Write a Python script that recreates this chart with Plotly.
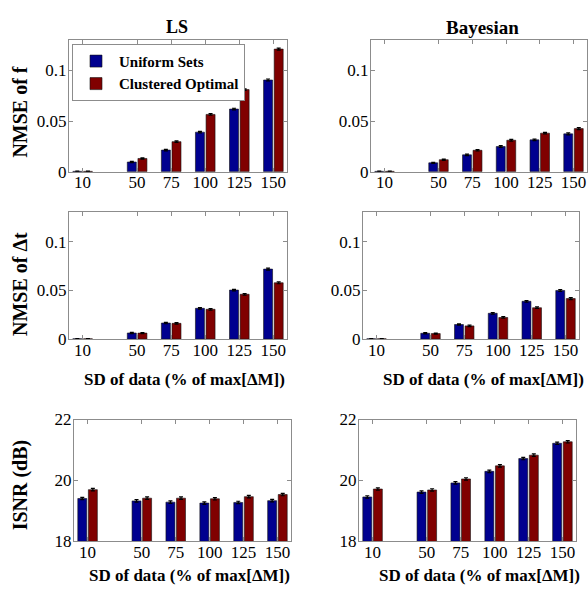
import plotly.graph_objects as go

# SD of data (% of max[ΔM])
sd_levels = [10, 50, 75, 100, 125, 150]
tick_labels = ["10", "50", "75", "100", "125", "150"]

# NMSE of f
nmse_f_ls_uniform = [0.0003, 0.0095, 0.0213, 0.0390, 0.0618, 0.0905]
nmse_f_ls_clustered = [0.0003, 0.0130, 0.0296, 0.0565, 0.0810, 0.1210]
nmse_f_bayes_uniform = [0.0003, 0.0087, 0.0166, 0.0248, 0.0314, 0.0373]
nmse_f_bayes_clustered = [0.0003, 0.0118, 0.0211, 0.0310, 0.0380, 0.0425]

# NMSE of Δt
nmse_t_ls_uniform = [0.0003, 0.0063, 0.0165, 0.0316, 0.0503, 0.0718]
nmse_t_ls_clustered = [0.0003, 0.0062, 0.0162, 0.0306, 0.0460, 0.0578]
nmse_t_bayes_uniform = [0.0003, 0.0060, 0.0150, 0.0265, 0.0388, 0.0499]
nmse_t_bayes_clustered = [0.0003, 0.0057, 0.0136, 0.0222, 0.0322, 0.0416]

# ISNR (dB)
isnr_ls_uniform = [19.41, 19.33, 19.29, 19.26, 19.28, 19.34]
isnr_ls_clustered = [19.70, 19.42, 19.42, 19.40, 19.47, 19.54]
isnr_bayes_uniform = [19.46, 19.62, 19.92, 20.30, 20.72, 21.22]
isnr_bayes_clustered = [19.72, 19.69, 20.05, 20.48, 20.83, 21.27]

# error bar half-widths
nmse_err = [0.0002, 0.0006, 0.0007, 0.0008, 0.0008, 0.0010]
isnr_err = [0.04, 0.04, 0.04, 0.04, 0.04, 0.04]

W, H = 588, 597
BLUE = "#00008F"
RED = "#800000"
FONT = "Liberation Serif"

def px_dom_x(a, b):
    return [a / W, b / W]

def px_dom_y(top, bottom):
    return [1 - bottom / H, 1 - top / H]

panels = [
    # (uniform, clustered, err, x px, y px, yrange, tickvals, ticktext)
    (nmse_f_ls_uniform, nmse_f_ls_clustered, nmse_err, (69, 287), (32, 168),
     [0, 0.13], [0, 0.05, 0.1], ["0", "0.05", "0.1"]),
    (nmse_f_bayes_uniform, nmse_f_bayes_clustered, nmse_err, (371, 587), (32, 168),
     [0, 0.13], [0, 0.05, 0.1], ["0", "0.05", "0.1"]),
    (nmse_t_ls_uniform, nmse_t_ls_clustered, nmse_err, (69, 287), (210, 341),
     [0, 0.13], [0, 0.05, 0.1], ["0", "0.05", "0.1"]),
    (nmse_t_bayes_uniform, nmse_t_bayes_clustered, nmse_err, (363, 579), (210, 341),
     [0, 0.13], [0, 0.05, 0.1], ["0", "0.05", "0.1"]),
    (isnr_ls_uniform, isnr_ls_clustered, isnr_err, (74, 291), (424, 550),
     [18, 22], [18, 20, 22], ["18", "20", "22"]),
    (isnr_bayes_uniform, isnr_bayes_clustered, isnr_err, (359, 576), (424, 550),
     [18, 22], [18, 20, 22], ["18", "20", "22"]),
]

fig = go.Figure()
layout_axes = {}
BAR_W = 6.6

for i, (uni, clu, err, xpx, ypx, yr, tv, tt) in enumerate(panels):
    n = i + 1
    xa = "x" if n == 1 else f"x{n}"
    ya = "y" if n == 1 else f"y{n}"
    floor = yr[0]
    for vals, color, name, off in ((uni, BLUE, "Uniform Sets", -7.2),
                                   (clu, RED, "Clustered Optimal", 0.6)):
        fig.add_trace(go.Bar(
            x=sd_levels, y=[v - floor for v in vals], base=floor,
            name=f"<b>{name}</b>", width=BAR_W, offset=off,
            marker=dict(color=color, line=dict(color="#111111", width=0.6)),
            error_y=dict(type="data", array=err, color="black", thickness=1.2, width=2),
            showlegend=(n == 1), legendgroup=name,
            xaxis=xa, yaxis=ya,
        ))
    axis_style = dict(showline=True, linecolor="#8c8c8c", linewidth=1, mirror="ticks",
                      ticks="inside", ticklen=4, tickcolor="#8c8c8c", showgrid=False,
                      zeroline=False, tickfont=dict(family=FONT, size=17, color="black"))
    xkey = "xaxis" if n == 1 else f"xaxis{n}"
    ykey = "yaxis" if n == 1 else f"yaxis{n}"
    layout_axes[xkey] = dict(domain=px_dom_x(*xpx), range=[0, 160], anchor=ya,
                             tickvals=sd_levels, ticktext=tick_labels,
                             ticklabelstandoff=-5, **axis_style)
    layout_axes[ykey] = dict(domain=px_dom_y(*ypx), range=yr, anchor=xa,
                             tickvals=tv, ticktext=tt,
                             ticklabelstandoff=-2, **axis_style)

def note(text, xpx, ypx, size, angle=0):
    return dict(text=f"<b>{text}</b>", x=xpx / W, y=1 - ypx / H, xref="paper", yref="paper",
                xanchor="center", yanchor="middle", showarrow=False, textangle=angle,
                font=dict(family=FONT, size=size, color="black"))

annotations = [
    note("LS", 177, 19, 18),
    note("Bayesian", 482, 19, 19),
    note("NMSE of f", 20, 107, 20, -90),
    note("NMSE of \u0394t", 20, 284, 20, -90),
    note("ISNR (dB)", 20, 492, 20, -90),
    note("SD of data (% of max[\u0394M])", 184, 383, 17),
    note("SD of data (% of max[\u0394M])", 483, 383, 17),
    note("SD of data (% of max[\u0394M])", 189, 585, 17),
    note("SD of data (% of max[\u0394M])", 479, 585, 17),
]

fig.update_layout(
    width=W, height=H, margin=dict(l=0, r=0, t=0, b=0),
    paper_bgcolor="white", plot_bgcolor="white", barmode="overlay",
    showlegend=True,
    legend=dict(x=72 / W, y=1 - 36 / H, xanchor="left", yanchor="top",
                bgcolor="white", bordercolor="#8c8c8c", borderwidth=1,
                font=dict(family=FONT, size=15, color="black"),
                itemwidth=36, tracegroupgap=0),
    annotations=annotations,
    **layout_axes,
)

fig.write_html("out.html")
